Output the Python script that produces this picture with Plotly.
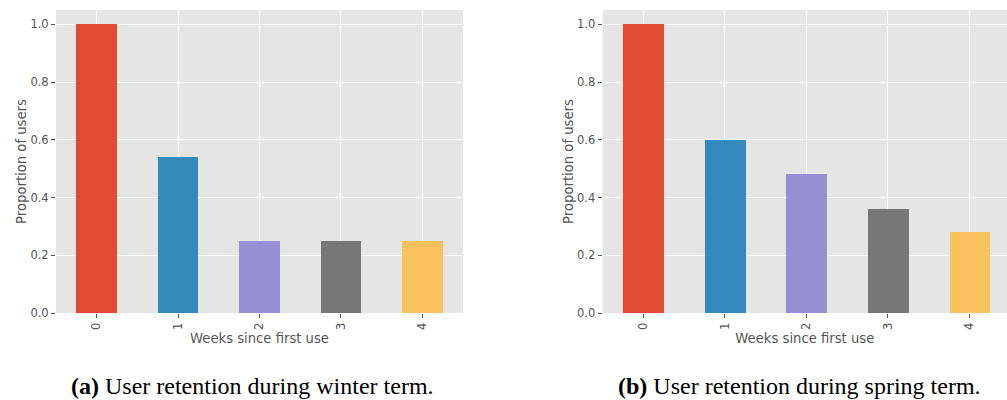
import plotly.graph_objects as go

weeks = [0, 1, 2, 3, 4]
week_labels = ["0", "1", "2", "3", "4"]
winter = [1.0, 0.54, 0.25, 0.25, 0.25]
spring = [1.0, 0.60, 0.48, 0.36, 0.28]
bar_colors = ["#E24A33", "#348ABD", "#988ED5", "#777777", "#FBC15E"]
y_ticks = [0.0, 0.2, 0.4, 0.6, 0.8, 1.0]
y_ticktext = ["0.0", "0.2", "0.4", "0.6", "0.8", "1.0"]
captions = ["<b>(a)</b> User retention during winter term.",
            "<b>(b)</b> User retention during spring term."]

W, H = 1007, 400
fig = go.Figure()
fig.add_trace(go.Bar(x=weeks, y=winter, marker=dict(color=bar_colors, line=dict(width=0)),
                     width=0.5, xaxis="x", yaxis="y", showlegend=False, hoverinfo="x+y"))
fig.add_trace(go.Bar(x=weeks, y=spring, marker=dict(color=bar_colors, line=dict(width=0)),
                     width=0.5, xaxis="x2", yaxis="y2", showlegend=False, hoverinfo="x+y"))

grid = "#FFFFFF"
tickfont = dict(family="DejaVu Sans", size=11.5, color="#555555")
titlefont = dict(family="DejaVu Sans", size=13.2, color="#555555")
ydom = [(H - 313) / H, (H - 10) / H]

def xax(domain, rng, anchor):
    return dict(domain=domain, range=rng, anchor=anchor, tickmode="array",
                tickvals=weeks, ticktext=week_labels, tickangle=-90,
                ticks="outside", ticklen=4, tickwidth=1, tickcolor="#555555",
                showgrid=True, gridcolor=grid, gridwidth=1.4, zeroline=False,
                showline=False, tickfont=tickfont, automargin=False,
                title=dict(text="Weeks since first use", font=titlefont, standoff=4))

def yax(anchor):
    return dict(domain=ydom, range=[0, 1.05], anchor=anchor, tickmode="array",
                tickvals=y_ticks, ticktext=y_ticktext,
                ticks="outside", ticklen=4, tickwidth=1, tickcolor="#555555",
                showgrid=True, gridcolor=grid, gridwidth=1.4, zeroline=False,
                showline=False, tickfont=tickfont, automargin=False,
                title=dict(text="Proportion of users", font=titlefont, standoff=0))

fig.update_layout(
    width=W, height=H,
    margin=dict(l=0, r=0, t=0, b=0),
    paper_bgcolor="white",
    plot_bgcolor="#E5E5E5",
    bargap=0,
    xaxis=xax([56 / W, 463 / W], [-0.5, 4.5], "y"),
    yaxis=yax("x"),
    xaxis2=xax([602.6 / W, 1.0], [-0.5, 4.46], "y2"),
    yaxis2=yax("x2"),
)

cap_font = dict(family="Liberation Serif, Times New Roman, serif", size=24, color="#000000")
for cx, txt in zip([252, 799], captions):
    fig.add_annotation(x=cx / W, y=(H - 386) / H, xref="paper", yref="paper",
                       text=txt, showarrow=False, font=cap_font,
                       xanchor="center", yanchor="middle")

fig.write_html("out.html")
